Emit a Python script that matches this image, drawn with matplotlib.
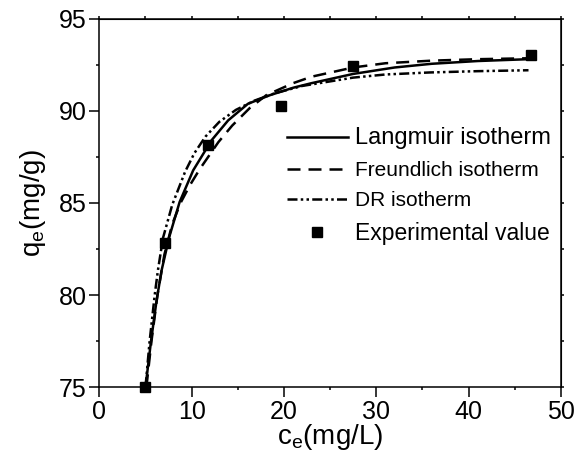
import matplotlib
matplotlib.use("Agg")
import matplotlib.pyplot as plt
from matplotlib.ticker import MultipleLocator

plt.rcParams['font.family'] = ['Liberation Sans', 'DejaVu Sans']
plt.rcParams['mathtext.fontset'] = 'custom'
plt.rcParams['mathtext.rm'] = 'Liberation Sans'
plt.rcParams['mathtext.default'] = 'regular'

# experimental points
exp_ce = [5.0, 7.1, 11.8, 19.7, 27.5, 46.8]
exp_qe = [75.0, 82.8, 88.15, 90.25, 92.45, 93.05]

# fitted curves, points
lang_ce = [5.0, 5.6, 6.2, 6.75, 7.58, 8.7, 10.17, 12.16, 13.96, 16.1, 18.5, 21.0, 23.0, 27.5, 32.0, 36.0, 41.0, 46.5]
lang_qe = [75.0, 77.5, 79.7, 81.35, 83.16, 85.05, 86.77, 88.4, 89.48, 90.38, 90.85, 91.25, 91.5, 92.0, 92.35, 92.55, 92.7, 92.8]

freu_ce = [5.1, 5.65, 6.3, 7.05, 7.9, 8.8, 9.8, 10.9, 12.9, 14.4, 16.3, 18.1, 21.0, 23.0, 27.5, 31.0, 36.0, 41.0, 46.5]
freu_qe = [75.0, 77.5, 80.0, 82.2, 83.85, 85.0, 85.95, 86.85, 88.3, 89.2, 90.15, 90.85, 91.5, 91.85, 92.35, 92.58, 92.72, 92.8, 92.85]

dr_ce = [5.0, 5.45, 6.0, 6.35, 6.9, 7.9, 9.3, 10.3, 11.5, 13.0, 14.8, 16.8, 19.0, 22.0, 27.5, 31.0, 35.8, 41.0, 46.5]
dr_qe = [75.0, 77.5, 80.0, 81.35, 83.1, 84.9, 86.7, 87.7, 88.6, 89.4, 90.05, 90.55, 90.95, 91.35, 91.8, 91.97, 92.08, 92.15, 92.2]

fig = plt.figure(figsize=(5.86, 4.66), dpi=100)
ax = fig.add_axes([0.1695, 0.169, 0.7875, 0.791])

ax.plot(lang_ce, lang_qe, color='black', lw=1.8, ls='-', label='Langmuir isotherm')
ax.plot(freu_ce, freu_qe, color='black', lw=1.8, ls=(0, (5.2, 3.2)), label='Freundlich isotherm')
ax.plot(dr_ce, dr_qe, color='black', lw=1.8, ls=(0, (4, 1.3, 1, 1.3, 1, 1.3)), label='DR isotherm')
ax.plot(exp_ce, exp_qe, ls='none', marker='s', ms=7.5, color='black', label='Experimental value',
        clip_on=False, zorder=5)

ax.set_xlim(0, 50)
ax.set_ylim(75, 95)
ax.xaxis.set_major_locator(MultipleLocator(10))
ax.xaxis.set_minor_locator(MultipleLocator(5))
ax.yaxis.set_major_locator(MultipleLocator(5))
ax.yaxis.set_minor_locator(MultipleLocator(2.5))
ax.tick_params(which='major', direction='out', length=7, width=1.1, labelsize=18, pad=2)
ax.tick_params(which='minor', direction='out', length=2.5, width=1.1)
for s in ax.spines.values():
    s.set_linewidth(1.1)

# short outward ticks on top and right
top = ax.secondary_xaxis('top')
top.set_xticks([0, 5, 10, 15, 20, 25, 30, 35, 40, 45, 50])
top.tick_params(direction='out', length=2.5, width=1.1, labeltop=False)
right = ax.secondary_yaxis('right')
right.set_yticks([75, 77.5, 80, 82.5, 85, 87.5, 90, 92.5, 95])
right.tick_params(direction='out', length=2.5, width=1.1, labelright=False)

ax.set_xlabel(r'c$_e$(mg/L)', fontsize=20, labelpad=-1)
ax.set_ylabel(r'q$_e$(mg/g)', fontsize=20, labelpad=8)

leg = ax.legend(loc='upper left', bbox_to_anchor=(0.407, 0.705), frameon=False, fontsize=15,
                handlelength=2.9, handletextpad=0.35, labelspacing=0.55, borderpad=0, borderaxespad=0)
sizes = [17, 15, 15, 16.5]
for t, fs in zip(leg.get_texts(), sizes):
    t.set_fontsize(fs)

fig.savefig('out.png', dpi=100)
